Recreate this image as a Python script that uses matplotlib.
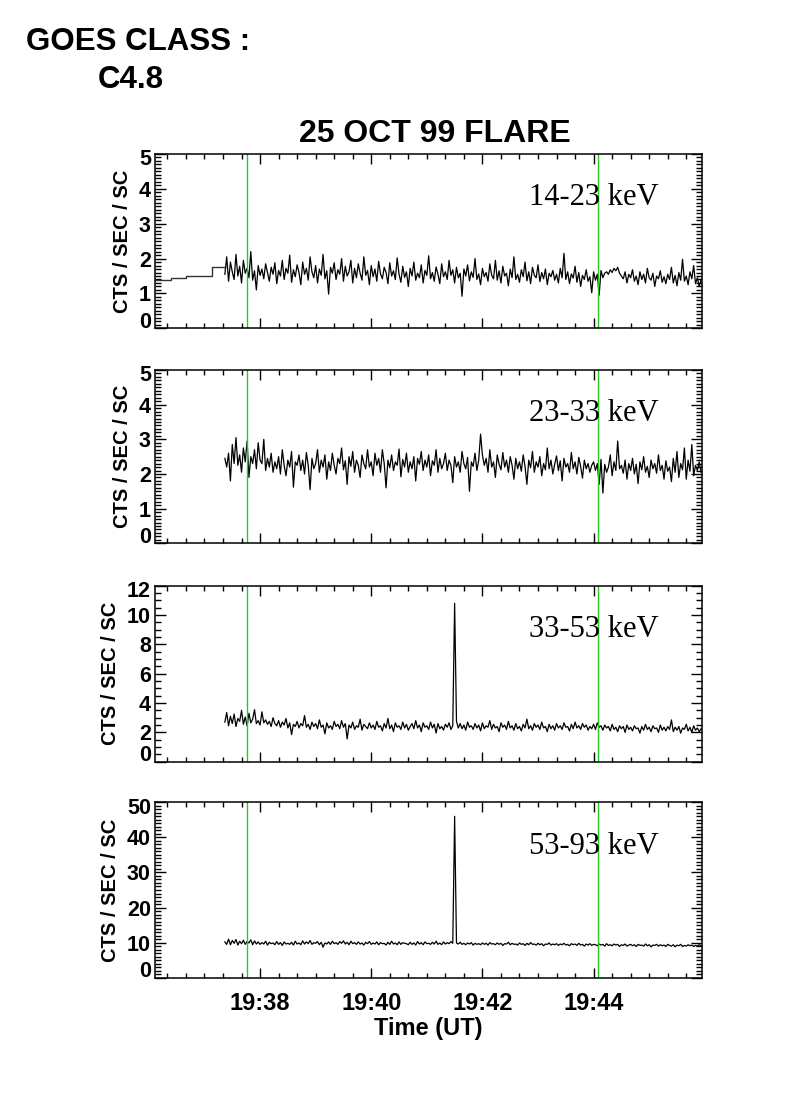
import numpy as np
import matplotlib
matplotlib.use("Agg")
import matplotlib.pyplot as plt
from matplotlib.ticker import MultipleLocator, FixedLocator

# ---------------- data ----------------
# time axis: seconds after 19:36:00 UT
t_start = 82          # first sample of the continuous record (19:37:22)
cadence = 2           # seconds per sample

# 14-23 keV pre-record step values (start time, value)
pre_times = [6.6, 24, 40, 68, 82]
pre_vals = [1.39, 1.45, 1.51, 1.75, 1.75]

band1 = [1.55, 2.05, 1.35, 1.90, 1.62, 1.40, 2.12, 1.50, 1.78, 1.30, 1.95, 1.58, 1.72, 1.45, 2.20, 1.38, 1.65, 1.10, 1.80, 1.52,
         1.70, 1.42, 1.85, 1.60, 1.35, 1.75, 1.55, 1.88, 1.28, 1.66, 1.50, 1.95, 1.40, 1.72, 1.58, 2.10, 1.32, 1.68, 1.48, 1.82,
         1.60, 1.25, 1.90, 1.55, 1.72, 1.38, 2.05, 1.62, 1.45, 1.80, 1.30, 1.70, 1.52, 2.12, 1.42, 1.65, 0.98, 1.75, 1.58, 1.88,
         1.40, 1.68, 1.55, 2.00, 1.35, 1.78, 1.50, 1.62, 1.95, 1.30, 1.72, 1.45, 1.85, 1.58, 1.38, 2.05, 1.52, 1.66, 1.25, 1.80,
         1.48, 1.70, 1.35, 1.92, 1.56, 1.42, 1.75, 1.60, 1.28, 1.88, 1.50, 1.65, 1.40, 2.02, 1.55, 1.32, 1.78, 1.46, 1.62, 1.20,
         1.72, 1.50, 1.90, 1.38, 1.58, 1.45, 1.82, 1.30, 1.66, 1.52, 2.08, 1.42, 1.60, 1.35, 1.76, 1.55, 1.28, 1.85, 1.48, 1.62,
         1.40, 1.95, 1.52, 1.68, 1.30, 1.75, 1.45, 1.58, 0.92, 1.70, 1.50, 1.82, 1.36, 1.62, 1.46, 2.00, 1.40, 1.56, 1.25, 1.72,
         1.48, 1.60, 1.35, 1.85, 1.52, 1.42, 1.95, 1.38, 1.65, 1.30, 1.78, 1.50, 1.58, 1.22, 1.70, 1.45, 2.05, 1.40, 1.55, 1.32,
         1.68, 1.48, 1.90, 1.36, 1.62, 1.28, 1.75, 1.52, 1.45, 1.82, 1.34, 1.60, 1.42, 1.70, 1.25, 1.58, 1.48, 1.66, 1.38, 1.55,
         1.30, 1.72, 1.45, 2.15, 1.40, 1.62, 1.28, 1.56, 1.44, 1.78, 1.32, 1.60, 1.20, 1.52, 1.40, 1.68, 1.35, 1.48, 1.02, 1.62,
         1.38, 1.55, 0.95, 1.66, 1.45, 1.58, 1.62, 1.55, 1.68, 1.60, 1.72, 1.65, 1.75, 1.58, 1.50, 1.42, 1.62, 1.30, 1.55, 1.45,
         1.68, 1.35, 1.50, 1.25, 1.62, 1.40, 1.55, 1.30, 1.72, 1.45, 1.38, 1.58, 1.20, 1.50, 1.42, 1.65, 1.32, 1.48, 1.28, 1.55,
         1.40, 1.75, 1.30, 1.52, 1.22, 1.60, 1.38, 1.98, 1.35, 1.50, 1.25, 1.62, 1.42, 1.80, 1.28, 1.45, 1.20, 1.40]

band2 = [2.45, 2.20, 2.60, 1.80, 2.85, 2.30, 3.05, 2.25, 2.55, 2.05, 2.75, 2.35, 2.95, 1.90, 2.50, 2.30, 2.70, 2.15, 2.90, 2.40,
         2.30, 3.00, 2.10, 2.45, 2.20, 2.60, 2.05, 2.35, 2.15, 2.50, 2.00, 2.70, 2.25, 1.95, 2.40, 2.20, 2.65, 1.62, 2.35, 2.25,
         2.55, 2.10, 2.40, 2.00, 2.62, 2.25, 1.55, 2.45, 2.15, 2.30, 2.70, 2.05, 2.40, 2.20, 2.55, 1.85, 2.35, 2.10, 2.60, 2.25,
         2.00, 2.45, 2.30, 2.75, 2.12, 2.38, 1.70, 2.50, 2.22, 2.65, 2.05, 2.40, 2.25, 1.90, 2.55, 2.30, 2.15, 2.70, 2.20, 2.35,
         1.95, 2.60, 2.25, 2.45, 2.05, 2.70, 2.30, 1.60, 2.40, 2.18, 2.55, 2.10, 2.35, 2.25, 2.72, 1.92, 2.42, 2.20, 2.60, 2.05,
         2.35, 2.15, 2.50, 1.80, 2.45, 2.28, 2.65, 2.10, 2.40, 2.20, 2.55, 1.95, 2.38, 2.25, 2.70, 2.05, 2.45, 2.15, 2.30, 2.60,
         2.10, 2.40, 2.25, 1.75, 2.50, 2.20, 2.35, 2.05, 2.65, 2.30, 2.15, 2.48, 1.50, 2.35, 2.22, 2.60, 2.10, 2.40, 3.15, 2.55,
         2.25, 2.45, 2.05, 2.70, 2.20, 2.35, 1.90, 2.55, 2.28, 2.12, 2.62, 2.20, 2.40, 2.05, 2.50, 2.25, 1.85, 2.45, 2.15, 2.35,
         2.08, 2.55, 2.22, 1.70, 2.40, 2.18, 2.65, 2.05, 2.35, 2.20, 2.50, 1.95, 2.30, 2.12, 2.75, 2.15, 2.40, 2.00, 2.28, 2.52,
         2.10, 2.38, 1.80, 2.45, 2.20, 2.30, 2.05, 2.62, 2.15, 2.35, 2.00, 2.48, 2.22, 1.88, 2.40, 2.15, 2.30, 2.05, 2.25, 2.35,
         2.10, 2.30, 1.70, 2.42, 1.45, 2.28, 2.05, 2.20, 2.55, 1.95, 2.35, 2.10, 2.95, 2.15, 2.25, 2.02, 2.40, 1.85, 2.30, 2.10,
         2.45, 2.00, 2.28, 1.72, 2.35, 2.12, 2.50, 2.05, 2.22, 1.90, 2.40, 2.15, 2.30, 2.02, 2.55, 2.10, 2.25, 1.85, 2.38, 2.08,
         2.20, 1.78, 2.45, 2.05, 2.65, 1.90, 2.30, 2.12, 2.75, 1.85, 2.40, 2.08, 2.85, 1.95, 2.25, 2.10, 2.35, 2.05]

band3 = [2.70, 3.35, 2.45, 3.10, 2.60, 3.25, 2.40, 2.95, 2.75, 3.50, 2.55, 3.05, 2.45, 3.30, 2.65, 2.90, 3.55, 2.60, 2.80, 2.50,
         3.40, 2.65, 2.85, 2.55, 2.75, 2.40, 3.00, 2.60, 2.45, 2.80, 2.35, 2.70, 2.50, 2.95, 2.30, 2.65, 1.85, 2.55, 2.40, 2.75,
         2.30, 2.60, 2.45, 3.15, 2.35, 2.55, 2.20, 2.70, 2.40, 2.60, 2.25, 2.85, 2.35, 2.50, 1.90, 2.65, 2.30, 2.45, 2.20, 2.75,
         2.40, 2.55, 2.25, 2.80, 2.35, 2.60, 1.55, 2.50, 2.30, 2.70, 2.20, 2.45, 2.35, 2.90, 2.15, 2.55, 2.40, 2.25, 2.65, 2.30,
         2.50, 2.20, 2.75, 2.35, 2.45, 2.10, 2.60, 2.30, 2.95, 2.25, 2.50, 2.05, 2.65, 2.35, 2.45, 2.20, 2.70, 2.30, 2.55, 2.15,
         2.40, 2.60, 2.25, 2.80, 2.30, 2.50, 2.05, 2.65, 2.35, 2.45, 2.20, 2.70, 2.30, 2.55, 1.95, 2.60, 2.25, 2.40, 2.15, 2.55,
         2.35, 2.65, 2.20, 2.45, 10.80, 2.75, 2.30, 2.60, 2.25, 2.50, 2.15, 2.70, 2.35, 2.45, 2.20, 2.60, 2.30, 2.50, 2.10, 2.65,
         2.25, 2.45, 2.35, 2.80, 2.20, 2.55, 2.30, 2.40, 2.05, 2.65, 2.35, 2.50, 2.20, 2.75, 2.30, 2.45, 2.15, 2.60, 2.25, 2.40,
         2.10, 2.55, 2.30, 2.90, 2.25, 2.45, 2.15, 2.60, 2.35, 2.50, 2.20, 2.70, 2.30, 2.40, 2.05, 2.55, 2.25, 2.45, 2.15, 2.60,
         2.30, 2.45, 2.20, 2.65, 2.35, 2.40, 2.10, 2.55, 2.25, 2.70, 2.30, 2.45, 2.20, 2.60, 2.35, 2.50, 2.15, 2.40, 2.25, 2.55,
         2.20, 2.65, 2.35, 2.45, 2.15, 2.50, 2.30, 2.40, 2.10, 2.55, 2.20, 2.35, 2.05, 2.45, 2.25, 2.40, 2.00, 2.50, 2.20, 2.35,
         2.10, 2.45, 2.25, 2.30, 1.95, 2.40, 2.15, 2.55, 2.20, 2.35, 2.05, 2.45, 2.25, 2.30, 2.00, 2.50, 2.15, 2.35, 2.10, 2.40,
         2.20, 2.85, 2.05, 2.35, 2.15, 2.40, 1.95, 2.30, 2.20, 2.55, 2.10, 2.35, 2.00, 2.45, 2.15, 2.30, 2.05, 2.25]

band4 = [10.2, 9.5, 11.0, 9.4, 10.6, 9.8, 10.9, 9.3, 10.4, 9.7, 10.7, 9.5, 10.3, 9.9, 10.8, 9.4, 10.5, 9.6, 10.2, 9.5,
         10.0, 9.6, 10.4, 9.3, 10.1, 9.7, 9.9, 9.4, 10.3, 9.5, 10.0, 9.2, 10.2, 9.6, 9.8, 9.5, 10.1, 9.3, 10.4, 9.6,
         9.9, 9.4, 10.5, 9.6, 10.2, 9.7, 10.6, 9.5, 10.0, 9.8, 10.3, 9.4, 10.1, 8.7, 9.9, 9.6, 10.2, 9.5, 10.4, 9.7,
         10.0, 9.5, 10.3, 9.8, 10.5, 9.6, 10.1, 9.4, 10.4, 9.7, 10.0, 9.5, 10.2, 9.6, 9.9, 9.3, 10.1, 9.7, 10.3, 9.5,
         9.9, 9.6, 10.2, 9.4, 10.0, 9.7, 9.8, 9.3, 10.1, 9.5, 10.4, 9.6, 9.9, 9.4, 10.2, 9.5, 10.0, 9.8, 9.7, 9.4,
         10.1, 9.5, 9.9, 9.3, 10.3, 9.6, 10.0, 9.4, 10.2, 9.7, 9.8, 9.5, 10.1, 9.6, 10.4, 9.5, 9.9, 9.4, 10.2, 9.6,
         10.0, 9.7, 10.3, 9.8, 46.0, 9.9, 9.6, 10.1, 9.5, 9.8, 9.4, 9.9, 9.6, 10.0, 9.3, 9.8, 9.5, 9.7, 9.4, 9.9,
         9.5, 9.8, 9.3, 10.0, 9.6, 9.7, 9.4, 9.9, 9.5, 9.8, 9.2, 9.7, 9.6, 10.1, 9.4, 9.8, 9.5, 9.6, 9.3, 9.9,
         9.5, 9.7, 9.2, 9.8, 9.4, 10.0, 9.5, 9.6, 9.3, 9.8, 9.4, 9.7, 9.1, 9.6, 9.5, 9.9, 9.3, 9.6, 9.4, 9.7,
         9.2, 9.6, 9.4, 9.8, 9.3, 9.5, 9.1, 9.7, 9.4, 9.6, 9.2, 9.8, 9.3, 9.5, 9.0, 9.6, 9.3, 9.7, 9.2, 9.5,
         9.4, 9.1, 9.6, 9.3, 9.5, 9.0, 9.7, 9.2, 9.4, 9.1, 9.6, 9.3, 9.5, 8.9, 9.4, 9.2, 9.6, 9.0, 9.3, 9.5,
         9.1, 9.4, 8.9, 9.5, 9.2, 9.3, 9.0, 9.6, 9.1, 9.4, 8.8, 9.3, 9.2, 9.5, 9.0, 9.4, 9.1, 9.3, 8.9, 9.5,
         9.2, 9.0, 9.4, 8.8, 9.3, 9.1, 9.5, 8.9, 9.2, 9.0, 9.4, 9.1, 9.3, 8.9, 9.2, 9.0, 9.4, 9.1]

band_labels = ["14-23 keV", "23-33 keV", "33-53 keV", "53-93 keV"]
y_max = [5, 5, 12, 50]
y_major = [1, 1, 2, 10]
y_minor = [0.1, 0.1, 0.5, 1]

marker_times = [106, 485]          # 19:37:46 and 19:44:05
x_range = [6.6, 597]               # 19:36:06.6 .. 19:45:57
x_tick_pos = [120, 240, 360, 480]
x_tick_labels = ["19:38", "19:40", "19:42", "19:44"]

title = "25 OCT 99 FLARE"
goes_text = ["GOES CLASS :", "C4.8"]

# ---------------- figure ----------------
W, H = 790, 1118
fig = plt.figure(figsize=(W / 100, H / 100), dpi=100)
sans = ["Liberation Sans", "DejaVu Sans"]
serif = ["Liberation Serif", "DejaVu Serif"]

# pixel boxes (top, bottom) of the four panels
boxes = [(154, 328.3), (370, 543.3), (585.7, 761.7), (802.3, 977.7)]
x0, x1 = 155, 702

series = [band1, band2, band3, band4]
tick_fs = 15.5
label_pad_pt = 3.0
end_shift_pt = 4.3

for i, (top, bot) in enumerate(boxes):
    ax = fig.add_axes([x0 / W, 1 - bot / H, (x1 - x0) / W, (bot - top) / H])
    times = t_start + cadence * np.arange(len(series[i]))
    if i == 0:
        ax.plot(pre_times, pre_vals, drawstyle="steps-post", color="#333333", lw=1.0)
    ax.plot(times, series[i], color="black", lw=0.9)
    for mt in marker_times:
        ax.axvline(mt, color="#22cc22", lw=1.0)
    ax.set_xlim(*x_range)
    ax.set_ylim(0, y_max[i])
    ax.yaxis.set_minor_locator(MultipleLocator(y_minor[i]))
    ax.xaxis.set_major_locator(FixedLocator(x_tick_pos))
    ax.xaxis.set_minor_locator(MultipleLocator(20))
    ax.tick_params(which="both", direction="in", top=True, right=True, width=1.0, color="black")
    ax.tick_params(axis="x", which="major", length=7)
    ax.tick_params(axis="x", which="minor", length=3.5)
    ax.tick_params(axis="y", which="major", length=8, pad=label_pad_pt)
    ax.tick_params(axis="y", which="minor", length=4)
    for sp in ax.spines.values():
        sp.set_linewidth(1.1)
    yt = np.arange(0, y_max[i] + 0.001, y_major[i])
    ax.set_yticks(yt)
    # interior labels as ordinary tick labels; the two end labels sit slightly inside the box
    ax.set_yticklabels([("" if (k == 0 or k == len(yt) - 1) else f"{int(v)}") for k, v in enumerate(yt)],
                       fontfamily=sans, fontweight="bold", fontsize=tick_fs)
    for v, dy in [(yt[0], end_shift_pt), (yt[-1], -end_shift_pt)]:
        ax.annotate(f"{int(v)}", xy=(0, v), xycoords=ax.get_yaxis_transform(),
                    xytext=(-label_pad_pt, dy), textcoords="offset points",
                    ha="right", va="center", fontfamily=sans, fontweight="bold", fontsize=tick_fs)
    ax.set_ylabel("CTS / SEC / SC", fontfamily=sans, fontweight="bold", fontsize=14.5, labelpad=5)
    if i == 3:
        ax.set_xticklabels(x_tick_labels, fontfamily=sans, fontweight="bold", fontsize=17)
        ax.tick_params(axis="x", which="major", pad=10)
        ax.set_xlabel("Time (UT)", fontfamily=sans, fontweight="bold", fontsize=17, labelpad=2)
    else:
        ax.set_xticklabels([])
    ax.text(0.684, 0.707, band_labels[i], transform=ax.transAxes, fontfamily=serif,
            fontsize=22, ha="left", va="baseline")

fig.align_ylabels(fig.axes)

fig.text(435 / W, 1 - 142 / H, title, ha="center", va="baseline",
         fontfamily=sans, fontweight="bold", fontsize=23)
fig.text(26 / W, 1 - 50 / H, goes_text[0], ha="left", va="baseline",
         fontfamily=sans, fontweight="bold", fontsize=22.5)
fig.text(98 / W, 1 - 88 / H, goes_text[1], ha="left", va="baseline",
         fontfamily=sans, fontweight="bold", fontsize=22.5)

fig.savefig("out.png", dpi=100, facecolor="white")
